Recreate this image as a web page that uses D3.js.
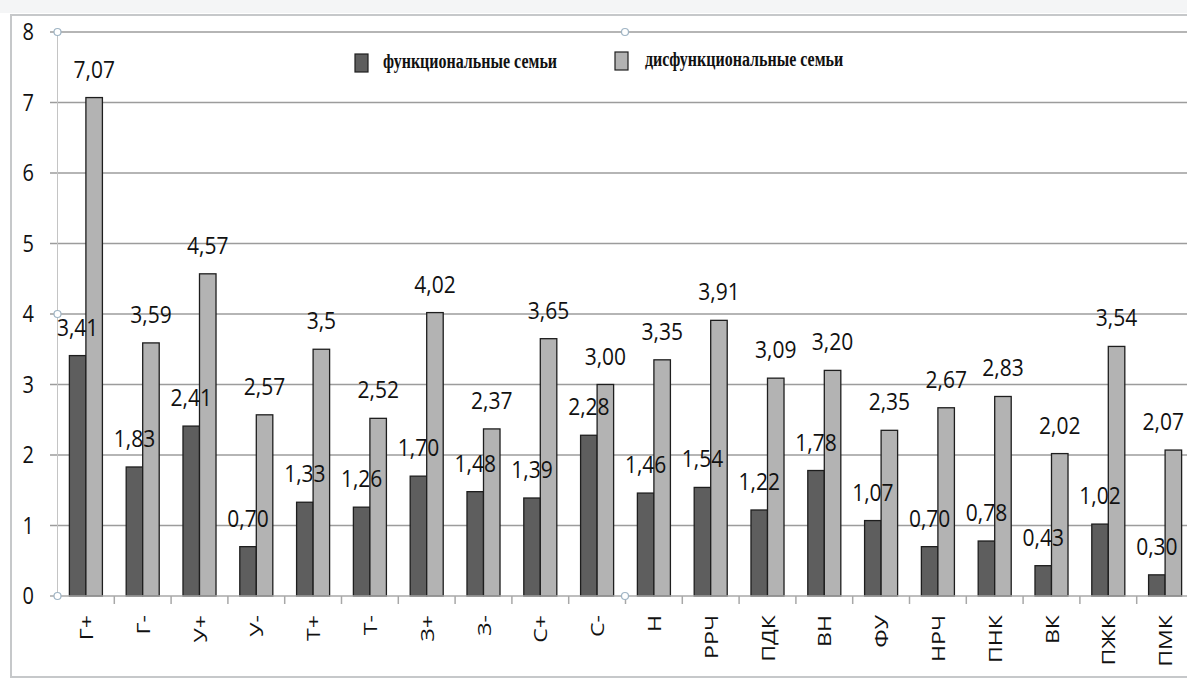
<!DOCTYPE html>
<html>
<head>
<meta charset="utf-8">
<script src="https://cdn.jsdelivr.net/npm/d3@7"></script>
<style>
  body { margin: 0; background: #fff; }
  svg { display: block; }
</style>
</head>
<body>
<svg id="chart"></svg>
<script>
// data
const categories = ["Г+", "Г-", "У+", "У-", "Т+", "Т-", "З+", "З-", "С+", "С-", "Н", "РРЧ", "ПДК", "ВН", "ФУ", "НРЧ", "ПНК", "ВК", "ПЖК", "ПМК"];
const functional = [3.41, 1.83, 2.41, 0.70, 1.33, 1.26, 1.70, 1.48, 1.39, 2.28, 1.46, 1.54, 1.22, 1.78, 1.07, 0.70, 0.78, 0.43, 1.02, 0.30];
const dysfunctional = [7.07, 3.59, 4.57, 2.57, 3.5, 2.52, 4.02, 2.37, 3.65, 3.00, 3.35, 3.91, 3.09, 3.20, 2.35, 2.67, 2.83, 2.02, 3.54, 2.07];
const functionalLabels = ["3,41", "1,83", "2,41", "0,70", "1,33", "1,26", "1,70", "1,48", "1,39", "2,28", "1,46", "1,54", "1,22", "1,78", "1,07", "0,70", "0,78", "0,43", "1,02", "0,30"];
const dysfunctionalLabels = ["7,07", "3,59", "4,57", "2,57", "3,5", "2,52", "4,02", "2,37", "3,65", "3,00", "3,35", "3,91", "3,09", "3,20", "2,35", "2,67", "2,83", "2,02", "3,54", "2,07"];
const yTicks = [0, 1, 2, 3, 4, 5, 6, 7, 8];
const seriesNames = ["функциональные семьи", "дисфункциональные семьи"];
const colors = ["#5e5e5e", "#b3b3b3"];

const W = 1187, H = 679;
const svg = d3.select("#chart").attr("width", W).attr("height", H);

const x = d3.scaleBand().domain(categories).range([57.5, 1193.5]).padding(0);
const x1 = d3.scaleBand().domain([0, 1]).range([0, x.bandwidth()]).paddingInner(0).paddingOuter(0.72);
const y = d3.scaleLinear().domain([0, 8]).range([596, 32]);

// outer frame
svg.append("rect").attr("x", 0).attr("y", 0).attr("width", W).attr("height", 13).attr("fill", "#f4f5f6");
svg.append("rect")
   .attr("x", 11).attr("y", 15).attr("width", W + 20).attr("height", 662)
   .attr("fill", "none").attr("stroke", "#c6c8ca").attr("stroke-width", 2);

// gridlines
svg.append("g").selectAll("line")
   .data(yTicks.filter(d => d > 0))
   .enter().append("line")
   .attr("x1", 50).attr("x2", W)
   .attr("y1", d => y(d)).attr("y2", d => y(d))
   .attr("stroke", "#9c9c9c").attr("stroke-width", 1.5);

// y axis line + ticks
svg.append("line").attr("x1", 57.5).attr("x2", 57.5).attr("y1", y(8)).attr("y2", y(0))
   .attr("stroke", "#c4c4c4").attr("stroke-width", 1);
svg.append("line").attr("x1", 50).attr("x2", 57.5).attr("y1", y(0)).attr("y2", y(0))
   .attr("stroke", "#a8a8a8").attr("stroke-width", 1.5);

// y labels
svg.append("g").selectAll("text")
   .data(yTicks)
   .enter().append("text")
   .attr("transform", d => `translate(34,${y(d) + 8}) scale(1,1.22)`)
   .attr("text-anchor", "end")
   .style("font-family", "'Open Sans', sans-serif")
   .style("font-size", "20px")
   .attr("fill", "#111")
   .text(d => d);

// bars
const groups = svg.append("g").selectAll("g")
   .data(categories)
   .enter().append("g")
   .attr("transform", d => `translate(${x(d)},0)`);

[functional, dysfunctional].forEach((series, s) => {
    groups.append("rect")
       .attr("x", x1(s))
       .attr("width", x1.bandwidth())
       .attr("y", (d, i) => y(series[i]))
       .attr("height", (d, i) => y(0) - y(series[i]))
       .attr("fill", colors[s])
       .attr("stroke", "#1e1e1e")
       .attr("stroke-width", 1.3);
});

// x axis line + ticks
svg.append("line").attr("x1", 57.5).attr("x2", W).attr("y1", y(0)).attr("y2", y(0))
   .attr("stroke", "#a8a8a8").attr("stroke-width", 1.5);
svg.append("g").selectAll("line")
   .data(categories.slice(1))
   .enter().append("line")
   .attr("x1", d => x(d)).attr("x2", d => x(d))
   .attr("y1", y(0)).attr("y2", y(0) + 8)
   .attr("stroke", "#a8a8a8").attr("stroke-width", 1.5);

// x labels
svg.append("g").selectAll("text")
   .data(categories)
   .enter().append("text")
   .attr("transform", d => `translate(${x(d) + x.bandwidth() / 2 + 7},615) rotate(-90) scale(1.22,1)`)
   .attr("text-anchor", "end")
   .style("font-family", "'Open Sans', sans-serif")
   .style("font-size", "19px")
   .attr("fill", "#111")
   .text(d => d);

// value labels (kept inside the picture at the right edge)
[[functional, functionalLabels], [dysfunctional, dysfunctionalLabels]].forEach(([series, labels], s) => {
    groups.append("text")
       .attr("text-anchor", "middle")
       .style("font-family", "'Open Sans', sans-serif")
       .style("font-size", "21px")
       .attr("fill", "#111")
       .text((d, i) => labels[i])
       .attr("transform", function (d, i) {
           const half = this.getComputedTextLength() / 2;
           let cx = x1(s) + x1.bandwidth() / 2;
           const maxCx = W - 3 - half - x(d);
           if (cx > maxCx) cx = maxCx;
           return `translate(${cx},${y(series[i]) - 20}) scale(1,1.13)`;
       });
});

// selection handles
const handles = [[57.5, y(8)], [57.5, y(4)], [57.5, y(0)], [625, y(0)], [625, y(8)]];
svg.append("g").selectAll("circle")
   .data(handles)
   .enter().append("circle")
   .attr("cx", d => d[0]).attr("cy", d => d[1]).attr("r", 3.5)
   .attr("fill", "#fff").attr("stroke", "#9fb4c4").attr("stroke-width", 1.2);

// legend
const legend = svg.append("g");
const legendPos = [[355, 383, 63], [615, 645, 61]];
seriesNames.forEach((name, s) => {
    const [lx, tx, cy] = legendPos[s];
    legend.append("rect")
       .attr("x", lx).attr("y", cy - 9).attr("width", 13).attr("height", 18)
       .attr("fill", colors[s]).attr("stroke", "#1e1e1e").attr("stroke-width", 1.2);
    legend.append("text")
       .attr("transform", `translate(${tx},${cy + 5}) scale(1,1.3)`)
       .style("font-family", "'Liberation Serif', 'Times New Roman', serif")
       .style("font-weight", "bold")
       .style("font-size", "16px")
       .attr("fill", "#111")
       .text(name);
});
</script>
</body>
</html>
